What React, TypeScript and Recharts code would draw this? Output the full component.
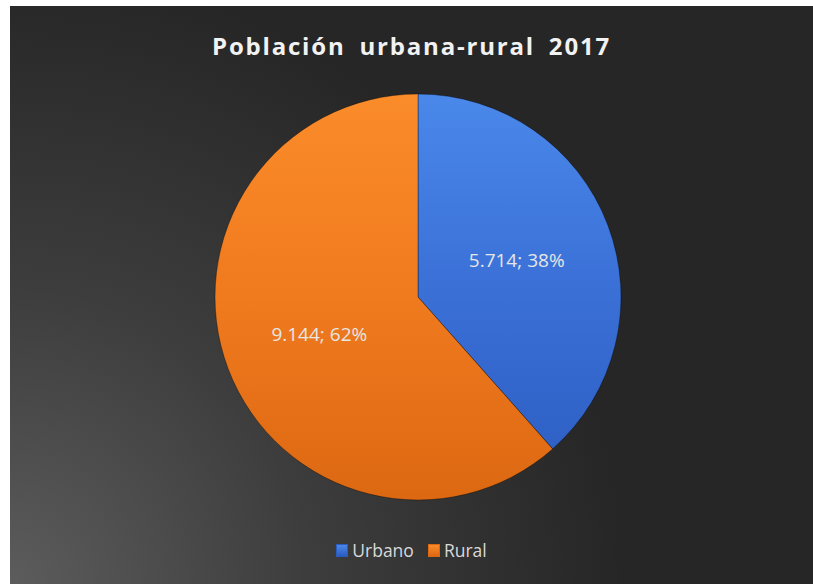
import { Legend, Pie, PieChart, Cell } from 'recharts';

const categories = ['Urbano', 'Rural'];
const population = [5714, 9144];
const sliceColors = [
  ['#4a88ea', '#3a6fd6', '#2b5cc0'],
  ['#fb8c2a', '#f07a1e', '#dc6812']
];

const data = categories.map((name, i) => ({ name, value: population[i] }));

const W = 803;
const H = 578;
const CX = 408;
const CY = 291;
const R = 203;

const fmt = (n: number) => {
  const s = String(n);
  return s.length > 3 ? s.slice(0, -3) + '.' + s.slice(-3) : s;
};

const RAD = Math.PI / 180;

const renderLabel = (props: any) => {
  const { cx, cy, midAngle, outerRadius, value, percent } = props;
  const r = outerRadius * 0.52;
  const x = cx + r * Math.cos(-midAngle * RAD);
  const y = cy + r * Math.sin(-midAngle * RAD);
  return (
    <text
      x={x}
      y={y}
      fill="#e6e6e6"
      textAnchor="middle"
      dominantBaseline="central"
      fontSize={19}
      fontFamily="'Open Sans', sans-serif"
    >
      {`${fmt(value)}; ${Math.round(percent * 100)}%`}
    </text>
  );
};

const LegendContent = () => (
  <div
    style={{
      display: 'flex',
      justifyContent: 'center',
      gap: 14,
      fontFamily: "'Open Sans', sans-serif",
      fontSize: 17.5,
      color: '#d9d9d9'
    }}
  >
    {categories.map((c, i) => (
      <div key={c} style={{ display: 'flex', alignItems: 'center', gap: 4 }}>
        <span
          style={{
            display: 'inline-block',
            width: 10,
            height: 11,
            background: `linear-gradient(180deg, ${sliceColors[i][0]}, ${sliceColors[i][2]})`,
            border: `1px solid ${sliceColors[i][2]}`
          }}
        />
        <span>{c}</span>
      </div>
    ))}
  </div>
);

export default function App() {
  return (
    <div style={{ position: 'fixed', left: 0, top: 0, width: 813, height: 584, background: '#fff' }}>
      <div
        style={{
          position: 'absolute',
          left: 10,
          top: 6,
          width: W,
          height: H,
          background:
            'radial-gradient(circle at 0% 100%, #5c5c5c 0%, #3d3d3d 30%, #262626 62%, #262626 100%)'
        }}
      >
        <div
          style={{
            position: 'absolute',
            left: 0,
            top: 23,
            width: W,
            textAlign: 'center',
            color: '#f2f2f2',
            fontFamily: "'Open Sans', sans-serif",
            fontWeight: 700,
            fontSize: 24,
            letterSpacing: 1.8,
            wordSpacing: 6
          }}
        >
          Población urbana-rural 2017
        </div>
        <PieChart
          width={W}
          height={H}
          margin={{ top: 0, right: 0, bottom: 0, left: 0 }}
          style={{ position: 'absolute', left: 0, top: 0 }}
        >
          <defs>
            {sliceColors.map((c, i) => (
              <linearGradient
                key={i}
                id={`slice${i}`}
                gradientUnits="userSpaceOnUse"
                x1={0}
                y1={CY - R}
                x2={0}
                y2={CY + R}
              >
                <stop offset="0%" stopColor={c[0]} />
                <stop offset="50%" stopColor={c[1]} />
                <stop offset="100%" stopColor={c[2]} />
              </linearGradient>
            ))}
          </defs>
          <Pie
            data={data}
            dataKey="value"
            nameKey="name"
            cx={CX}
            cy={CY}
            outerRadius={R}
            startAngle={90}
            endAngle={-270}
            stroke="rgba(0,0,0,0.35)"
            strokeWidth={1}
            label={renderLabel}
            labelLine={false}
            isAnimationActive={false}
          >
            {data.map((d, i) => (
              <Cell key={d.name} fill={`url(#slice${i})`} />
            ))}
          </Pie>
          <Legend content={LegendContent} wrapperStyle={{ left: 0, top: 532, width: W }} />
        </PieChart>
      </div>
    </div>
  );
}
